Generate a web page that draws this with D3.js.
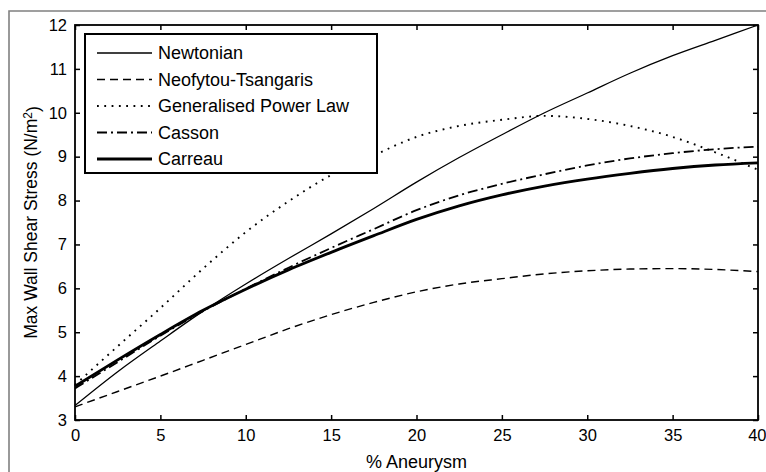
<!DOCTYPE html>
<html lang="en">
<head>
<meta charset="UTF-8">
<title>Max Wall Shear Stress</title>
<style>
  body { margin: 0; background: #fff; }
  text { font-family: "Liberation Sans", Arial, sans-serif; fill: #000; }
</style>
</head>
<body>
<svg width="766" height="472"></svg>
<script src="https://d3js.org/d3.v7.min.js"></script>
<script>
// % aneurysm sample points
const aneurysm = [0, 2.5, 5, 7.5, 10, 12.5, 15, 17.5, 20, 22.5, 25, 27.5, 30, 32.5, 35, 37.5, 40];

// max wall shear stress (N/m2)
const newtonian   = [3.33, 4.10, 4.80, 5.48, 6.10, 6.68, 7.24, 7.82, 8.42, 8.98, 9.50, 10.00, 10.45, 10.90, 11.30, 11.65, 12.00];
const neofytou    = [3.30, 3.65, 4.00, 4.36, 4.72, 5.08, 5.40, 5.68, 5.92, 6.10, 6.22, 6.33, 6.40, 6.44, 6.45, 6.43, 6.38];
const powerLaw    = [3.80, 4.68, 5.55, 6.45, 7.28, 7.98, 8.58, 9.03, 9.45, 9.70, 9.84, 9.93, 9.86, 9.70, 9.45, 9.10, 8.70];
const casson      = [3.72, 4.32, 4.92, 5.48, 5.99, 6.47, 6.92, 7.35, 7.78, 8.12, 8.38, 8.60, 8.80, 8.96, 9.08, 9.17, 9.23];
const carreau     = [3.77, 4.37, 4.95, 5.50, 5.98, 6.42, 6.82, 7.20, 7.57, 7.88, 8.13, 8.33, 8.49, 8.62, 8.73, 8.81, 8.86];

const seriesNames = ["Newtonian", "Neofytou-Tsangaris", "Generalised Power Law", "Casson", "Carreau"];
const seriesValues = [newtonian, neofytou, powerLaw, casson, carreau];

const xTicks = [0, 5, 10, 15, 20, 25, 30, 35, 40];
const yTicks = [3, 4, 5, 6, 7, 8, 9, 10, 11, 12];

// line styles per series
const styles = [
  { width: 1.3, dash: null },
  { width: 1.4, dash: "8,5" },
  { width: 1.9, dash: "1.8,5.5" },
  { width: 1.8, dash: "10,4,2,4" },
  { width: 2.8, dash: null }
];

const svg = d3.select("svg");
const mLeft = 75, mRight = 758, mTop = 25, mBottom = 420;

// outer gray frame
svg.append("path")
    .attr("d", "M9,472 L9,11 L766,11")
    .attr("fill", "none")
    .attr("stroke", "#808080")
    .attr("stroke-width", 1.6);

const x = d3.scaleLinear().domain([0, 40]).range([mLeft, mRight]);
const y = d3.scaleLinear().domain([3, 12]).range([mBottom, mTop]);

const axisFont = "16.5px";

svg.append("g")
    .attr("transform", `translate(0,${mBottom})`)
    .call(d3.axisBottom(x).tickValues(xTicks).tickSizeInner(-5).tickSizeOuter(0).tickPadding(9))
    .call(g => g.select(".domain").remove())
    .call(g => g.selectAll("line").attr("stroke-width", 1.5))
    .call(g => g.selectAll("text").style("font-size", axisFont))
    // last label sits against the window edge
    .call(g => g.selectAll("text").filter(d => d === 40)
        .attr("text-anchor", "end").attr("x", 766 - mRight));

svg.append("g")
    .attr("transform", `translate(0,${mTop})`)
    .call(d3.axisTop(x).tickValues(xTicks).tickSizeInner(-5).tickSizeOuter(0).tickFormat(""))
    .call(g => g.select(".domain").remove())
    .call(g => g.selectAll("line").attr("stroke-width", 1.5));

svg.append("g")
    .attr("transform", `translate(${mLeft},0)`)
    .call(d3.axisLeft(y).tickValues(yTicks).tickSizeInner(-5).tickSizeOuter(0).tickPadding(8))
    .call(g => g.select(".domain").remove())
    .call(g => g.selectAll("line").attr("stroke-width", 1.5))
    .call(g => g.selectAll("text").style("font-size", axisFont));

svg.append("g")
    .attr("transform", `translate(${mRight},0)`)
    .call(d3.axisRight(y).tickValues(yTicks).tickSizeInner(-5).tickSizeOuter(0).tickFormat(""))
    .call(g => g.select(".domain").remove())
    .call(g => g.selectAll("line").attr("stroke-width", 1.5));

// plot box
svg.append("rect")
    .attr("x", mLeft).attr("y", mTop)
    .attr("width", mRight - mLeft).attr("height", mBottom - mTop)
    .attr("fill", "none")
    .attr("stroke", "#000")
    .attr("stroke-width", 1.8);

const line = d3.line()
    .x((d, i) => x(aneurysm[i]))
    .y(d => y(d))
    .curve(d3.curveMonotoneX);

svg.append("g").selectAll("path")
  .data(seriesValues)
  .join("path")
    .attr("d", line)
    .attr("fill", "none")
    .attr("stroke", "#000")
    .attr("stroke-width", (d, i) => styles[i].width)
    .attr("stroke-dasharray", (d, i) => styles[i].dash);

// legend
const lg = svg.append("g");
lg.append("rect")
    .attr("x", 85).attr("y", 34)
    .attr("width", 292).attr("height", 139)
    .attr("fill", "#fff")
    .attr("stroke", "#000")
    .attr("stroke-width", 2);

const rows = lg.selectAll("g.row")
  .data(seriesNames)
  .join("g")
    .attr("class", "row")
    .attr("transform", (d, i) => `translate(0,${53 + i * 26.5})`);

rows.append("line")
    .attr("x1", 97).attr("x2", 152)
    .attr("stroke", "#000")
    .attr("stroke-width", (d, i) => styles[i].width)
    .attr("stroke-dasharray", (d, i) => styles[i].dash);

rows.append("text")
    .attr("x", 158)
    .attr("dy", "0.36em")
    .style("font-size", "18px")
    .text(d => d);

// axis titles
svg.append("text")
    .attr("x", (mLeft + mRight) / 2)
    .attr("y", 468)
    .attr("text-anchor", "middle")
    .style("font-size", "18px")
    .text("% Aneurysm");

const yl = svg.append("text")
    .attr("transform", `translate(37,${(mTop + mBottom) / 2}) rotate(-90)`)
    .attr("text-anchor", "middle")
    .style("font-size", "17.5px");
yl.append("tspan").text("Max Wall Shear Stress (N/m");
yl.append("tspan").attr("dy", "-0.45em").style("font-size", "12px").text("2");
yl.append("tspan").attr("dy", "0.45em").text(")");
</script>
</body>
</html>
